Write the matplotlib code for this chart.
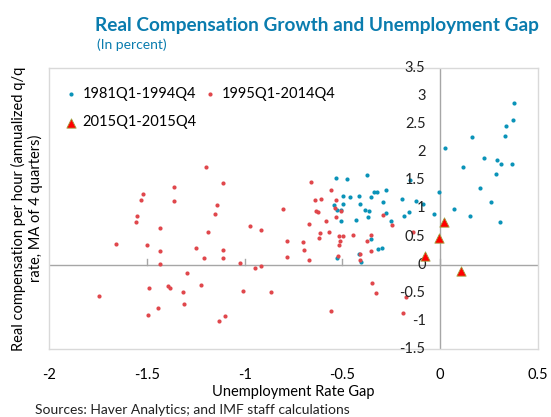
import matplotlib.pyplot as plt

# unemployment rate gap (x) and real compensation growth (y)
gap_8194 = [-0.535, -0.476, -0.374, -0.497, -0.462, -0.416, -0.543, -0.496, -0.410, -0.528,
            -0.506, -0.506, -0.431, -0.384, -0.362, -0.367, -0.354, -0.338, -0.322, -0.294,
            -0.275, -0.277, -0.249, -0.196, -0.184, -0.157, -0.156, -0.125, -0.087, -0.030,
            -0.008, 0.024, 0.070, 0.118, 0.151, 0.164, 0.205, 0.224, 0.258, 0.285,
            0.290, 0.304, 0.312, 0.330, 0.336, 0.365, 0.374, 0.376, -0.355, -0.296,
            -0.317, -0.415, -0.404, -0.530]
comp_8194 = [1.543, 1.525, 1.591, 1.222, 1.210, 1.226, 1.057, 1.080, 1.080, 0.979,
             0.968, 0.778, 0.799, 0.968, 0.964, 0.854, 1.205, 1.285, 1.285, 1.116,
             1.329, 0.914, 0.769, 1.164, 0.866, 0.941, 1.503, 1.130, 1.085, 0.902,
             1.299, 2.071, 0.986, 1.744, 0.866, 2.267, 1.365, 1.899, 1.121, 1.614,
             1.858, 0.765, 1.797, 2.290, 2.468, 1.786, 2.580, 2.883, 0.457, 0.302,
             0.279, 0.199, 0.043, 0.128]

gap_9514 = [-1.743, -1.658, -1.554, -1.552, -1.530, -1.520, -1.501, -1.495, -1.489, -1.444,
            -1.434, -1.433, -1.433, -1.393, -1.381, -1.363, -1.359, -1.296, -1.317, -1.308,
            -1.249, -1.223, -1.210, -1.199, -1.189, -1.149, -1.141, -1.129, -1.112, -1.110,
            -1.112, -1.099, -1.022, -1.008, -0.974, -0.947, -0.916, -0.916, -0.865, -0.805,
            -0.782, -0.785, -0.702, -0.695, -0.671, -0.672, -0.659, -0.638, -0.610, -0.635,
            -0.623, -0.584, -0.558, -0.534, -0.538, -0.533, -0.617, -0.570, -0.516, -0.496,
            -0.446, -0.620, -0.510, -0.518, -0.523, -0.410, -0.410, -0.373, -0.354, -0.352,
            -0.293, -0.245, -0.138, -0.350, -0.330, -0.558, -0.177, -0.190, -0.507]
comp_9514 = [-0.557, 0.363, 0.765, 0.872, 1.151, 1.253, 0.342, -0.895, -0.415, -0.771,
             0.648, 0.244, 0.012, -0.384, -0.406, 1.388, 1.133, -0.139, -0.481, -0.694,
             0.302, -0.361, 0.124, 1.733, 0.587, 0.902, 1.059, -0.998, 1.448, 0.270,
             0.124, -0.909, 0.025, -0.468, 0.689, -0.064, 0.623, -0.027, -0.482, 0.991,
             0.422, 0.133, 0.409, 0.253, 0.084, 0.719, 1.480, 1.160, 1.174, 0.961,
             0.938, 0.778, 1.329, 1.156, 1.009, 0.849, 0.564, 0.582, 0.516, 0.511,
             0.534, 0.470, 0.422, 0.359, 0.146, 0.199, 0.092, 0.422, 0.244, 0.537,
             0.884, 0.715, 0.576, -0.320, -0.504, -0.824, -0.580, -0.865, 0.961]

gap_15 = [-0.076, -0.005, 0.019, 0.105]
comp_15 = [0.16, 0.48, 0.76, -0.107]

xticks = [-2, -1.5, -1, -0.5, 0, 0.5]
yticks = [-1.5, -1, -0.5, 0, 0.5, 1, 1.5, 2, 2.5, 3, 3.5]

plt.rcParams['font.family'] = ['Lato', 'DejaVu Sans']
blue = '#0a93b8'
red = '#e0474c'
title_col = '#0a7cae'

fig = plt.figure(figsize=(5.51, 4.17), dpi=100)
ax = fig.add_axes([49 / 551, 1 - 349 / 417, 489 / 551, 281 / 417])

h1 = ax.scatter(gap_8194, comp_8194, s=9, color=blue, lw=0, label='1981Q1-1994Q4', zorder=3)
h2 = ax.scatter(gap_9514, comp_9514, s=9, color=red, lw=0, label='1995Q1-2014Q4', zorder=3)
h3 = ax.scatter(gap_15, comp_15, s=45, marker='^', color='#ff0000', edgecolor='#a0a040',
                lw=0.6, label='2015Q1-2015Q4', zorder=4)

ax.set_xlim(-2, 0.5)
ax.set_ylim(-1.5, 3.5)
for s in ax.spines.values():
    s.set_color('#d9d9d9')
    s.set_linewidth(1)

# axes crossing at zero (Excel style)
ax.axhline(0, color='#a6a6a6', lw=1, zorder=1)
ax.axvline(0, color='#a6a6a6', lw=1, zorder=1)
for t in xticks[1:-1]:
    ax.plot([t, t], [0, 0.1], color='#a6a6a6', lw=1, zorder=1)

ax.set_xticks(xticks)
ax.set_xticklabels([f'{t:g}' for t in xticks])
ax.tick_params(axis='x', length=0, pad=14, labelsize=10.5)
ax.set_yticks([])
for v in yticks:
    ax.text(-0.075, v, f'{v:g}', ha='right', va='center', fontsize=10.5, color='#222222')

ax.set_xlabel('Unemployment Rate Gap', fontsize=10.5, labelpad=2)
ax.set_ylabel('Real compensation per hour (annualized q/q\nrate, MA of 4 quarters)',
              fontsize=10.5, labelpad=4)

# row-wise legend order
leg = ax.legend([h1, h3, h2], ['1981Q1-1994Q4', '2015Q1-2015Q4', '1995Q1-2014Q4'],
                loc='upper left', ncol=2, frameon=False, fontsize=10.5,
                handlelength=1.0, handletextpad=0.3, columnspacing=0.4,
                borderaxespad=0.6, labelspacing=1.0, bbox_to_anchor=(0.0, 0.985))

fig.text(95 / 551, 1 - 25 / 417, 'Real Compensation Growth and Unemployment Gap',
         fontsize=13.7, fontweight='bold', color=title_col, va='center')
fig.text(97 / 551, 1 - 45 / 417, '(In percent)', fontsize=10, color=title_col, va='center')
fig.text(35 / 551, 1 - 410 / 417, 'Sources: Haver Analytics; and IMF staff calculations',
         fontsize=10, color='#222222', va='center')

fig.savefig('out.png', dpi=100)
